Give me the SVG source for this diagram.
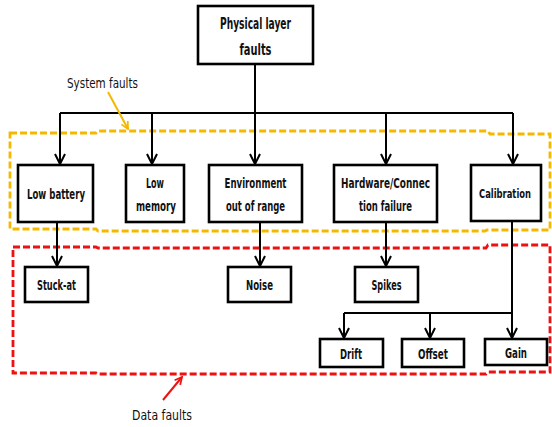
<svg xmlns="http://www.w3.org/2000/svg" width="552" height="427" viewBox="0 0 552 427">
<style>
.box{fill:#fff;stroke:#000;stroke-width:2.6}
.t{font-family:"DejaVu Sans Condensed","Liberation Sans",sans-serif;font-weight:bold;font-size:13.5px;fill:#111;text-anchor:middle}
.tb{font-size:15.5px}
.ts{font-size:12.5px}
.lbl{font-family:"DejaVu Sans Condensed","Liberation Sans",sans-serif;font-size:14px;fill:#111;text-anchor:middle}
.c{fill:none;stroke:#000;stroke-width:2}
.ydash{fill:none;stroke:#F5B800;stroke-width:2.8;stroke-dasharray:7,3}
.rdash{fill:none;stroke:#EE1111;stroke-width:2.8;stroke-dasharray:7,3}
</style>
<defs>
<marker id="ah" viewBox="0 0 12 12" refX="11" refY="6" markerWidth="12" markerHeight="12" markerUnits="userSpaceOnUse" orient="auto">
<path d="M1,1 L11,6 L1,11" fill="none" stroke="#000" stroke-width="2"/>
</marker>
<marker id="ay" viewBox="0 0 10 10" refX="9" refY="5" markerWidth="9" markerHeight="9" markerUnits="userSpaceOnUse" orient="auto">
<path d="M1,1 L9,5 L1,9" fill="none" stroke="#F5B800" stroke-width="2"/>
</marker>
<marker id="ar" viewBox="0 0 10 10" refX="9" refY="5" markerWidth="9" markerHeight="9" markerUnits="userSpaceOnUse" orient="auto">
<path d="M1,1 L9,5 L1,9" fill="none" stroke="#EE1111" stroke-width="2"/>
</marker>
</defs>

<g id="regions">
<path class="ydash" d="M10,133 H96 L98,131 H488 L490,134 H550 V230 H487 L485,231 H98 L96,229 H10 Z"/>
<path class="rdash" d="M13,247 H96 L98,248 H486 L488,245 H550 V372 H488 L486,374 H98 L96,373 H13 Z"/>
</g>

<g id="connectors">
<path class="c" d="M255,64 V113"/>
<path class="c" d="M60,113 H513"/>
<path class="c" d="M60,113 V164" marker-end="url(#ah)"/>
<path class="c" d="M152,113 V164" marker-end="url(#ah)"/>
<path class="c" d="M255,113 V164" marker-end="url(#ah)"/>
<path class="c" d="M386,113 V164" marker-end="url(#ah)"/>
<path class="c" d="M513,113 V164" marker-end="url(#ah)"/>
<path class="c" d="M57,222 V266" marker-end="url(#ah)"/>
<path class="c" d="M260,222 V266" marker-end="url(#ah)"/>
<path class="c" d="M386,222 V266" marker-end="url(#ah)"/>
<path class="c" d="M512,208 V338" marker-end="url(#ah)"/>
<path class="c" d="M344,313 H512"/>
<path class="c" d="M344,313 V338" marker-end="url(#ah)"/>
<path class="c" d="M430,313 V338" marker-end="url(#ah)"/>
<path fill="none" stroke="#F5B800" stroke-width="2" d="M108,92 L128,129" marker-end="url(#ay)"/>
<path fill="none" stroke="#EE1111" stroke-width="2" d="M163,400 L182,377" marker-end="url(#ar)"/>
</g>

<g id="physical">
<rect class="box" x="198" y="6" width="115" height="58"/>
<text class="t tb" x="255.5" y="29" textLength="71" lengthAdjust="spacingAndGlyphs">Physical layer</text>
<text class="t tb" x="255.5" y="55" textLength="32" lengthAdjust="spacingAndGlyphs">faults</text>
</g>
<g id="lowbattery">
<rect class="box" x="18" y="165" width="75" height="57"/>
<text class="t" x="56" y="199" textLength="58" lengthAdjust="spacingAndGlyphs">Low battery</text>
</g>
<g id="lowmemory">
<rect class="box" x="126" y="165" width="58" height="57"/>
<text class="t" x="155" y="188" textLength="18" lengthAdjust="spacingAndGlyphs">Low</text>
<text class="t" x="156" y="211" textLength="40" lengthAdjust="spacingAndGlyphs">memory</text>
</g>
<g id="environment">
<rect class="box" x="209" y="165" width="93" height="57"/>
<text class="t" x="255.5" y="188" textLength="62" lengthAdjust="spacingAndGlyphs">Environment</text>
<text class="t" x="255.5" y="211" textLength="59" lengthAdjust="spacingAndGlyphs">out of range</text>
</g>
<g id="hardware">
<rect class="box" x="334" y="165" width="103" height="57"/>
<text class="t" x="385.5" y="188" textLength="89" lengthAdjust="spacingAndGlyphs">Hardware/Connec</text>
<text class="t" x="385.5" y="211" textLength="53" lengthAdjust="spacingAndGlyphs">tion failure</text>
</g>
<g id="calibration">
<rect class="box" x="471" y="165" width="70" height="56"/>
<text class="t ts" x="505" y="198" textLength="52" lengthAdjust="spacingAndGlyphs">Calibration</text>
</g>
<g id="stuckat">
<rect class="box" x="25" y="267" width="63" height="35"/>
<text class="t" x="56.5" y="290" textLength="39" lengthAdjust="spacingAndGlyphs">Stuck-at</text>
</g>
<g id="noise">
<rect class="box" x="228" y="267" width="63" height="35"/>
<text class="t" x="259.5" y="290" textLength="27" lengthAdjust="spacingAndGlyphs">Noise</text>
</g>
<g id="spikes">
<rect class="box" x="355" y="267" width="63" height="35"/>
<text class="t" x="386.5" y="290" textLength="30" lengthAdjust="spacingAndGlyphs">Spikes</text>
</g>
<g id="drift">
<rect class="box" x="320" y="339" width="63" height="28"/>
<text class="t" x="351" y="359" textLength="22" lengthAdjust="spacingAndGlyphs">Drift</text>
</g>
<g id="offset">
<rect class="box" x="402" y="339" width="62" height="28"/>
<text class="t" x="433" y="359" textLength="30" lengthAdjust="spacingAndGlyphs">Offset</text>
</g>
<g id="gain">
<rect class="box" x="485" y="339" width="62" height="26"/>
<text class="t" x="516" y="358" textLength="22" lengthAdjust="spacingAndGlyphs">Gain</text>
</g>
<g id="labels">
<text class="lbl" x="102.5" y="88" textLength="71" lengthAdjust="spacingAndGlyphs">System faults</text>
<text class="lbl" x="162" y="420" textLength="60" lengthAdjust="spacingAndGlyphs">Data faults</text>
</g>
</svg>
